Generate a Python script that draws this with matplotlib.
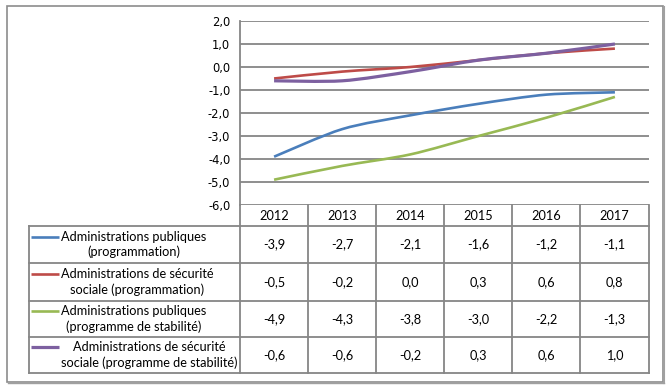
import matplotlib
matplotlib.use('Agg')
import matplotlib.pyplot as plt
from matplotlib.path import Path
from matplotlib.patches import PathPatch, Rectangle

years = ['2012', '2013', '2014', '2015', '2016', '2017']
apu_prog = [-3.9, -2.7, -2.1, -1.6, -1.2, -1.1]
asso_prog = [-0.5, -0.2, 0.0, 0.3, 0.6, 0.8]
apu_stab = [-4.9, -4.3, -3.8, -3.0, -2.2, -1.3]
asso_stab = [-0.6, -0.6, -0.2, 0.3, 0.6, 1.0]
series = [apu_prog, asso_prog, apu_stab, asso_stab]
series_labels = ['Administrations publiques\n(programmation)',
                 'Administrations de sécurité\nsociale (programmation)',
                 'Administrations publiques\n(programme de stabilité)',
                 'Administrations de sécurité\nsociale (programme de stabilité)']
colors = ['#4A7EBB', '#BE4B48', '#98B954', '#7D60A0']
y_ticks = [2, 1, 0, -1, -2, -3, -4, -5, -6]

W, H = 669, 386
GRID = '#868686'
TFONT = 'Lato'
TSIZE = 9.2

fig = plt.figure(figsize=(W / 100, H / 100), dpi=100)
fig.patch.set_facecolor('white')

bg = fig.add_axes([0, 0, 1, 1])
bg.set_xlim(0, W)
bg.set_ylim(H, 0)
bg.axis('off')

# outer frame
bg.add_patch(Rectangle((7, 6), 656, 376, fill=False, edgecolor='#8C8C8C', lw=1.2))
bg.plot([664, 664], [7, 383], color='#A0A0A0', lw=1.5)
bg.plot([8, 664], [383, 383], color='#A0A0A0', lw=1.0)

# plot area
L, R, T, B = 240, 649, 21, 205
ax = fig.add_axes([L / W, 1 - B / H, (R - L) / W, (B - T) / H])
ax.set_xlim(-0.5, len(years) - 0.5)
ax.set_ylim(-6, 2)
ax.patch.set_alpha(0)
for s in ['top', 'right', 'bottom']:
    ax.spines[s].set_visible(False)
ax.spines['left'].set_color(GRID)
ax.spines['left'].set_linewidth(1.3)
for v in y_ticks:
    ax.axhline(v, color=GRID, lw=1.3, zorder=1)
ax.set_xticks([])
ax.set_yticks(y_ticks)
ax.set_yticklabels([f'{v:.1f}'.replace('.', ',') for v in y_ticks],
                   fontsize=8.3, family='DejaVu Sans', color='black')
ax.tick_params(axis='y', length=0, pad=7)


def smooth_path(ys):
    xs = list(range(len(ys)))
    pts = list(zip(xs, ys))
    verts = [pts[0]]
    codes = [Path.MOVETO]
    n = len(pts)
    k = 7.0
    for i in range(n - 1):
        p0 = pts[i - 1] if i > 0 else pts[i]
        p1 = pts[i]
        p2 = pts[i + 1]
        p3 = pts[i + 2] if i + 2 < n else pts[i + 1]
        c1 = (p1[0] + (p2[0] - p0[0]) / k, p1[1] + (p2[1] - p0[1]) / k)
        c2 = (p2[0] - (p3[0] - p1[0]) / k, p2[1] - (p3[1] - p1[1]) / k)
        verts += [c1, c2, p2]
        codes += [Path.CURVE4] * 3
    return Path(verts, codes)


for ys, c in zip(series, colors):
    lw = 2.3 if c == '#7D60A0' else 1.9
    ax.add_patch(PathPatch(smooth_path(ys), facecolor='none', edgecolor=c,
                           lw=lw, capstyle='butt', zorder=3))

# data table
col_x = [240, 308, 376, 444, 512, 580, 649]
row_y = [205, 226, 263, 301, 337, 373]
TL = 29
tlw = 1.3
for y in row_y[1:]:
    bg.plot([TL, col_x[-1]], [y, y], color=GRID, lw=tlw, solid_capstyle='projecting')
bg.plot([TL, TL], [row_y[1], row_y[-1]], color=GRID, lw=tlw, solid_capstyle='projecting')
bg.plot([L, L], [B, row_y[-1]], color=GRID, lw=tlw, solid_capstyle='projecting')
for x in col_x[1:]:
    bg.plot([x, x], [row_y[0], row_y[-1]], color=GRID, lw=tlw, solid_capstyle='projecting')

for j, yr in enumerate(years):
    cx = (col_x[j] + col_x[j + 1]) / 2
    bg.text(cx, (row_y[0] + row_y[1]) / 2 + 0.5, yr, ha='center', va='center',
            fontsize=TSIZE, family=TFONT)

for i, (ys, lab, c) in enumerate(zip(series, series_labels, colors)):
    cy = (row_y[i + 1] + row_y[i + 2]) / 2
    lw = 2.3 if c == '#7D60A0' else 1.9
    bg.plot([31, 59], [cy - 8, cy - 8], color=c, lw=lw, solid_capstyle='butt')
    bg.text(61, cy, lab, ha='left', va='center', multialignment='center',
            fontsize=TSIZE, family=TFONT, linespacing=1.3)
    for j, v in enumerate(ys):
        cx = (col_x[j] + col_x[j + 1]) / 2
        bg.text(cx, cy, f'{v:.1f}'.replace('.', ','), ha='center', va='center',
                fontsize=TSIZE, family=TFONT)

fig.savefig('out.png', dpi=100)
